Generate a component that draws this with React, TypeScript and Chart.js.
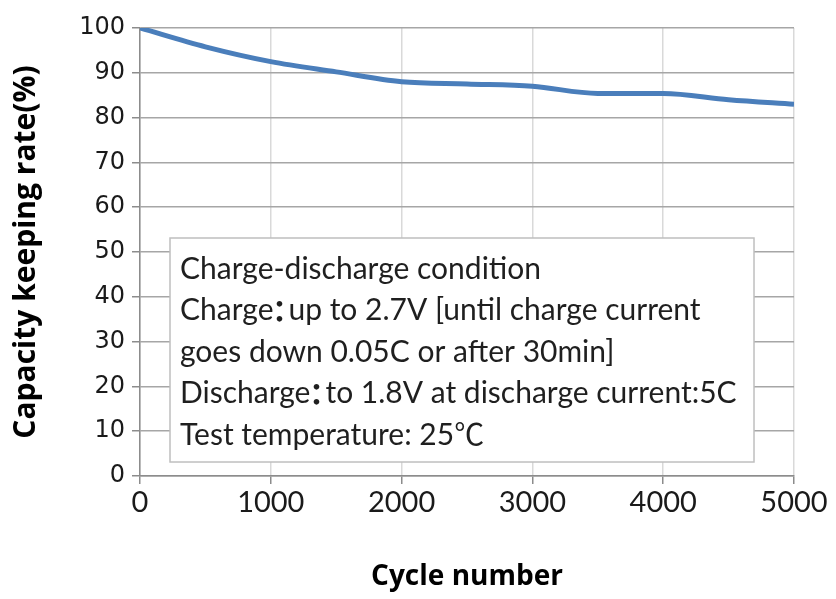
import React, { useEffect, useRef } from "react";
import { Chart, registerables } from "chart.js";

Chart.register(...registerables);

const cycles = [0, 500, 1000, 1500, 2000, 2500, 3000, 3500, 4000, 4500, 5000];
const keepingRate = [100, 95.8, 92.5, 90.2, 88, 87.5, 87, 85.4, 85.4, 84, 83];
const xTicks = [0, 1000, 2000, 3000, 4000, 5000];
const yTicks = [0, 10, 20, 30, 40, 50, 60, 70, 80, 90, 100];
const noteLines = [
  "Charge-discharge condition",
  "Charge\uFF1Aup to 2.7V [until charge current",
  "goes down 0.05C or after 30min]",
  "Discharge\uFF1Ato 1.8V at discharge current:5C",
  "Test temperature: 25\u2103",
];
const xTitle = "Cycle number";
const yTitle = "Capacity keeping rate(%)";

const NOTE_FONT_SIZE = 30;

const notePlugin = {
  id: "notebox",
  afterDatasetsDraw(chart: any) {
    const { ctx, chartArea } = chart;
    const left = chartArea.left + 30;
    const top = chartArea.top + 210;
    const right = chartArea.right - 40;
    const bottom = chartArea.bottom - 14;
    ctx.save();
    ctx.fillStyle = "#ffffff";
    ctx.fillRect(left, top, right - left, bottom - top);
    ctx.strokeStyle = "#bfbfbf";
    ctx.lineWidth = 1.5;
    ctx.strokeRect(left, top, right - left, bottom - top);
    ctx.fillStyle = "#1f1f1f";
    const font = `${NOTE_FONT_SIZE}px Lato, 'Noto Sans CJK SC', sans-serif`;
    ctx.textBaseline = "middle";
    ctx.textAlign = "left";
    noteLines.forEach((line, i) => {
      const y = top + 31 + i * 41.5;
      const parts = line.split("\uFF1A");
      let x = left + 10;
      parts.forEach((part, j) => {
        ctx.font = font;
        ctx.fillText(part, x, y);
        x += ctx.measureText(part).width;
        if (j < parts.length - 1) {
          ctx.font = `bold ${NOTE_FONT_SIZE}px 'Noto Sans CJK JP'`;
          const cw = ctx.measureText("\uFF1A").width;
          // centred colon, drawn in a narrow slot
          ctx.fillText("\uFF1A", x - cw * 0.5 + NOTE_FONT_SIZE * 0.2, y);
          x += NOTE_FONT_SIZE * 0.5;
        }
      });
    });
    ctx.restore();
  },
};

export default function App() {
  const ref = useRef<HTMLCanvasElement>(null);
  useEffect(() => {
    document.body.style.margin = "0";
    const chart = new Chart(ref.current!, {
      type: "line",
      data: {
        datasets: [
          {
            data: cycles.map((c, i) => ({ x: c, y: keepingRate[i] })),
            borderColor: "#4a7ebb",
            borderWidth: 5,
            pointRadius: 0,
            cubicInterpolationMode: "monotone",
            fill: false,
          },
        ],
      },
      options: {
        responsive: false,
        animation: false,
        layout: { padding: { left: 0, right: 42, top: 28, bottom: 0 } },
        plugins: { legend: { display: false }, tooltip: { enabled: false } },
        scales: {
          x: {
            type: "linear",
            min: 0,
            max: 5000,
            afterBuildTicks: (axis: any) => {
              axis.ticks = xTicks.map((v) => ({ value: v }));
            },
            afterFit: (axis: any) => {
              axis.height = 123;
            },
            grid: { color: "#d9d9d9", tickColor: "#8c8c8c", tickLength: 8, lineWidth: 1.5 },
            border: { color: "#8c8c8c", width: 1.5 },
            ticks: {
              color: "#1a1a1a",
              font: { family: "Lato", size: 29 },
              padding: 1,
              maxRotation: 0,
              callback: (v: any) => String(v),
            },
            title: {
              display: true,
              text: xTitle,
              color: "#000000",
              font: { family: "Open Sans", size: 28, weight: "bold" },
              padding: { top: 0, bottom: 5 },
            },
          },
          y: {
            min: 0,
            max: 100,
            afterBuildTicks: (axis: any) => {
              axis.ticks = yTicks.map((v) => ({ value: v }));
            },
            afterFit: (axis: any) => {
              axis.width = 140;
            },
            grid: { color: "#a6a6a6", tickColor: "#8c8c8c", tickLength: 8, lineWidth: 1.5 },
            border: { color: "#8c8c8c", width: 1.5 },
            ticks: {
              color: "#1a1a1a",
              font: { family: "DejaVu Sans", size: 24 },
              padding: 7,
              callback: (v: any) => String(v),
            },
            title: {
              display: true,
              text: yTitle,
              color: "#000000",
              font: { family: "Open Sans", size: 30, weight: "bold" },
              padding: { top: 8, bottom: 0 },
            },
          },
        },
      },
      plugins: [notePlugin],
    });
    return () => chart.destroy();
  }, []);
  return (
    <div style={{ width: 836, height: 599, position: "relative" }}>
      <canvas ref={ref} width={836} height={599} style={{ display: "block" }} />
    </div>
  );
}
